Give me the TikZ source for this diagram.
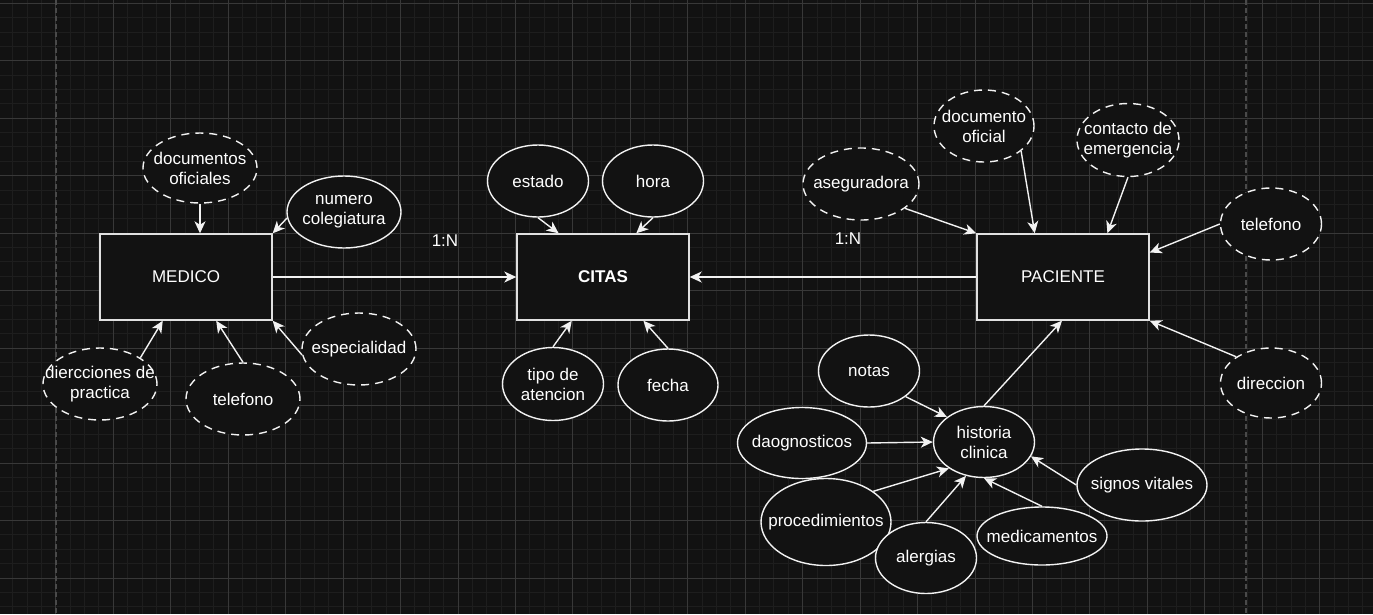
\documentclass[tikz,border=0pt]{standalone}
\usepackage{fontspec}
\setmainfont{Liberation Sans}
\usetikzlibrary{shapes.geometric,arrows.meta,calc}
\definecolor{bgc}{HTML}{121212}
\definecolor{minorc}{HTML}{1E1E1E}
\definecolor{majorc}{HTML}{383838}
\definecolor{pagec}{HTML}{4A4A4A}
\definecolor{linec}{HTML}{F2F2F2}
\definecolor{boxc}{HTML}{E0E0E0}
\tikzset{
  every node/.style={font=\fontsize{17}{20}\selectfont, text=white},
  entity/.style={draw=boxc, line width=1.4pt, fill=bgc, minimum width=172pt, minimum height=86pt, inner sep=0pt},
  attr/.style={ellipse, draw=linec, line width=1.4pt, fill=bgc, inner xsep=-45pt, inner ysep=-18pt, align=center},
  attrd/.style={attr, dash pattern=on 8pt off 6pt},
  conn/.style={draw=linec, line width=1.4pt, -{Stealth[length=12pt,width=11pt,inset=3.5pt]}},
  lbl/.style={inner sep=0pt},
}
\begin{document}
\begin{tikzpicture}[x=1pt,y=-1pt]
\useasboundingbox (0,0) rectangle (1373,614);
\fill[bgc] (0,0) rectangle (1373,614);
\begin{scope}
\clip (0,0) rectangle (1373,614);
\foreach \j in {0,...,97} {\draw[minorc,line width=1pt] ({-1.6+14.3625*\j},0) -- ({-1.6+14.3625*\j},614);}
\foreach \j in {-1,...,43} {\draw[minorc,line width=1pt] (0,{3.3+14.3675*\j}) -- (1373,{3.3+14.3675*\j});}
\foreach \k in {0,...,24} {\draw[majorc,line width=1pt] ({-1.6+57.45*\k},0) -- ({-1.6+57.45*\k},614);}
\foreach \k in {0,...,10} {\draw[majorc,line width=1pt] (0,{3.3+57.47*\k}) -- (1373,{3.3+57.47*\k});}
\draw[pagec,line width=1.2pt,dash pattern=on 5pt off 3pt] (56,0) -- (56,614);
\draw[pagec,line width=1.2pt,dash pattern=on 5pt off 3pt] (1246,0) -- (1246,614);
\end{scope}

% entities
\node[entity] (medico) at (186,277) {MEDICO};
\node[entity, font=\fontsize{17}{20}\selectfont\bfseries] (citas) at (603,277) {CITAS};
\node[entity] (paciente) at (1063,277) {PACIENTE};

% MEDICO attributes
\node[attrd, minimum width=114pt, minimum height=70pt] (docof) at (200,168) {documentos\\oficiales};
\node[attr, minimum width=114pt, minimum height=72pt] (numcol) at (344,212) {numero\\colegiatura};
\node[attrd, minimum width=114pt, minimum height=72pt] (espec) at (359,349) {especialidad};
\node[attrd, minimum width=114pt, minimum height=72pt] (dirprac) at (100,384) {diercciones de\\practica};
\node[attrd, minimum width=114pt, minimum height=72pt] (telm) at (243,399) {telefono};

% CITAS attributes
\node[attr, minimum width=101pt, minimum height=72pt] (estado) at (538,181) {estado};
\node[attr, minimum width=101pt, minimum height=72pt] (hora) at (653,181) {hora};
\node[attr, minimum width=101pt, minimum height=73pt] (tipo) at (553,384) {tipo de\\atencion};
\node[attr, minimum width=100pt, minimum height=72pt] (fecha) at (668,385) {fecha};

% PACIENTE attributes
\node[attrd, minimum width=116pt, minimum height=72pt] (aseg) at (861,184) {aseguradora};
\node[attrd, minimum width=100pt, minimum height=72pt] (docofi) at (984,126) {documento\\oficial};
\node[attrd, minimum width=102pt, minimum height=73pt] (contacto) at (1128,140) {contacto de\\emergencia};
\node[attrd, minimum width=101pt, minimum height=72pt] (telp) at (1271,224) {telefono};
\node[attrd, minimum width=101pt, minimum height=70pt] (direccion) at (1271,383) {direccion};

% historia clinica cluster
\node[attr, minimum width=101pt, minimum height=72pt] (notas) at (869,371) {notas};
\node[attr, minimum width=101pt, minimum height=71pt] (hist) at (984,442) {historia\\clinica};
\node[attr, minimum width=129pt, minimum height=71pt] (diag) at (802,443) {daognosticos};
\node[attr, minimum width=130pt, minimum height=87pt] (proced) at (826,522) {procedimientos};
\node[attr, minimum width=101pt, minimum height=71pt] (alerg) at (926,558) {alergias};
\node[attr, minimum width=130pt, minimum height=58pt] (medic) at (1042,536) {medicamentos};
\node[attr, minimum width=130pt, minimum height=72pt] (signos) at (1142,485) {signos vitales};

% labels
\node[lbl] (l1) at (445,241) {1:N};
\node[lbl] (l2) at (848,239) {1:N};

% connectors MEDICO
\draw[conn] (docof.south) -- (docof.south |- medico.north);
\draw[conn] (numcol.186) -- (medico.north east);
\draw[conn] (espec.186) -- (medico.south east);
\draw[conn] (dirprac.33) -- ($(medico.south west)!0.366!(medico.south east)$);
\draw[conn] (telm.north) -- ($(medico.south west)!0.674!(medico.south east)$);
\draw[conn] (medico.east) -- (citas.west);
\draw[conn] (paciente.west) -- (citas.east);

% connectors CITAS
\draw[conn] (estado.south) -- ($(citas.north west)!0.244!(citas.north east)$);
\draw[conn] (hora.south) -- ($(citas.north west)!0.692!(citas.north east)$);
\draw[conn] (tipo.north) -- ($(citas.south west)!0.32!(citas.south east)$);
\draw[conn] (fecha.north) -- ($(citas.south west)!0.733!(citas.south east)$);

% connectors PACIENTE
\draw[conn] (aseg.-29) -- (paciente.north west);
\draw[conn] (docofi.-34) -- ($(paciente.north west)!0.337!(paciente.north east)$);
\draw[conn] (contacto.south) -- ($(paciente.north west)!0.756!(paciente.north east)$);
\draw[conn] (telp.west) -- ($(paciente.north east)!0.22!(paciente.south east)$);
\draw[conn] (direccion.143) -- (paciente.south east);
\draw[conn] (hist.north) -- ($(paciente.south west)!0.494!(paciente.south east)$);

% connectors historia clinica
\draw[conn] (notas.-35) -- (hist.146);
\draw[conn] (diag.east) -- (hist.west);
\draw[conn] (proced.33) -- (hist.217);
\draw[conn] (alerg.north) -- (hist.242);
\draw[conn] (medic.north) -- (hist.south);
\draw[conn] (signos.west) -- (hist.-17);
\end{tikzpicture}
\end{document}
